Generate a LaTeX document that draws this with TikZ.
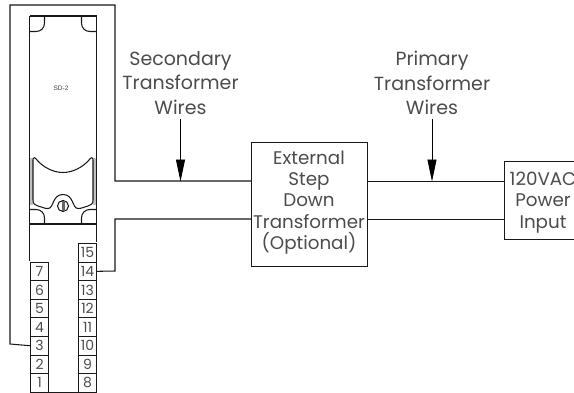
\documentclass[tikz,border=0pt]{standalone}
\usepackage{fontspec}
\setmainfont{Poppins}
\newfontfamily\labelfont{Liberation Sans}
\usetikzlibrary{arrows.meta}
\tikzset{
 wire/.style={line width=1.05pt,draw=black!90},
 straightwire/.style={line width=0.7pt,draw=black!90},
 tbox/.style={draw=black!90,line width=1.05pt,minimum width=18pt,minimum height=18.6pt,inner sep=0pt,font=\fontsize{14}{14}\selectfont,text=black!70,anchor=north west},
 textbox/.style={draw=black!90,line width=1.05pt,inner sep=0pt,anchor=north west},
 captext/.style={align=center,font=\fontsize{19}{24.3}\selectfont,text=black!70,inner sep=0pt},
 boxtext/.style={align=center,font=\fontsize{18.3}{21.2}\selectfont,text=black!70,inner sep=0pt},
 pointer/.style={line width=0.9pt,draw=black,-{Triangle[length=22pt,width=9pt]}}
}
\begin{document}
\begin{tikzpicture}[x=1pt,y=-1pt]
\useasboundingbox (0,0) rectangle (574,392);
\clip (0,0) rectangle (574,392);
\fill[white] (0,0) rectangle (574,392);
% module body
\draw[wire] (29.7,16) -- (96.3,16) -- (96.3,242);
\draw[wire] (29.7,16) -- (29.7,261);
\draw[wire] (29.7,31.5) -- (36,31.5) .. controls (41,31.5) and (44.5,28) .. (44.5,23) -- (44.5,16);
\draw[wire] (96.3,31.5) -- (90,31.5) .. controls (85,31.5) and (81.5,28) .. (81.5,23) -- (81.5,16);
\node[font=\labelfont\fontsize{6.5}{7}\selectfont,text=black!75,inner sep=0pt] (sd) at (61,88) {SD-2};
% latch
\fill[black!25] (30,158) rectangle (33,205);
\fill[black!25] (93,158) rectangle (96,205);
\draw[wire] (33,160) .. controls (33,157) and (35,157) .. (37,160) .. controls (43,167) and (53,172.5) .. (63,172.5) .. controls (73,172.5) and (83,167) .. (89,160) .. controls (91,157) and (93,157) .. (93,160) -- (93,200) .. controls (93,204) and (91,205) .. (88,206) .. controls (84,207) and (82,208.5) .. (78,208.5) .. controls (72,208.5) and (74,194.5) .. (63,194.5) .. controls (52,194.5) and (54,208.5) .. (48,208.5) .. controls (44,208.5) and (42,207) .. (38,206) .. controls (35,205) and (33,204) .. (33,200) -- cycle;
\draw[wire] (63,206) circle (5.5);
\fill[black!60] (61.5,201) rectangle (64.5,211);
% corner tabs
\draw[wire] (29.7,209.5) -- (36,209.5) .. controls (41,209.5) and (44.5,213) .. (44.5,218) -- (44.5,224);
\draw[wire] (96.3,209.5) -- (90,209.5) .. controls (85,209.5) and (81.5,213) .. (81.5,218) -- (81.5,224);
\draw[wire] (29.7,224) -- (96.3,224);
% terminals
\node[tbox] (t7) at (30,261.5) {7};
\node[tbox] (t6) at (30,280.1) {6};
\node[tbox] (t5) at (30,298.7) {5};
\node[tbox] (t4) at (30,317.3) {4};
\node[tbox] (t3) at (30,335.9) {3};
\node[tbox] (t2) at (30,354.5) {2};
\node[tbox] (t1) at (30,373.1) {1};
\node[tbox] (t15) at (78,242.9) {15};
\node[tbox] (t14) at (78,261.5) {14};
\node[tbox] (t13) at (78,280.1) {13};
\node[tbox] (t12) at (78,298.7) {12};
\node[tbox] (t11) at (78,317.3) {11};
\node[tbox] (t10) at (78,335.9) {10};
\node[tbox] (t9) at (78,354.5) {9};
\node[tbox] (t8) at (78,373.1) {8};
\draw[wire] (t1.south east) -- (t8.south west);
% boxes
\node[textbox,minimum width=116pt,minimum height=124pt] (xfmr) at (251,142) {};
\node[boxtext] (xfmrt) at (309,202.5) {External\\Step\\Down\\Transformer\\(Optional)};
\node[textbox,minimum width=80pt,minimum height=78pt] (pwr) at (504,161) {};
\node[boxtext] (pwrt) at (543,202.5) {120VAC\\Power\\Input};
% wires
\coordinate (j1) at (10,5);
\coordinate (j2) at (115,5);
\draw[wire] (t3.west) -- (10,344) -- (j1) -- (j2) -- (115,181) -- (xfmr.west |- 0,181);
\draw[wire] (t14.east) -- (115,271) -- (115,219) -- (xfmr.west |- 0,219);
\draw[straightwire] (xfmr.east |- 0,181) -- (pwr.west |- 0,181);
\draw[straightwire] (xfmr.east |- 0,219) -- (pwr.west |- 0,219);
% labels
\node[captext] (sec) at (180.5,83) {Secondary\\Transformer\\Wires};
\node[captext] (pri) at (432,83) {Primary\\Transformer\\Wires};
\coordinate (a1) at (180.5,181.5);
\coordinate (a2) at (432,181.5);
\draw[pointer] (sec.south |- 0,119) -- (a1);
\draw[pointer] (pri.south |- 0,119) -- (a2);
\end{tikzpicture}
\end{document}
